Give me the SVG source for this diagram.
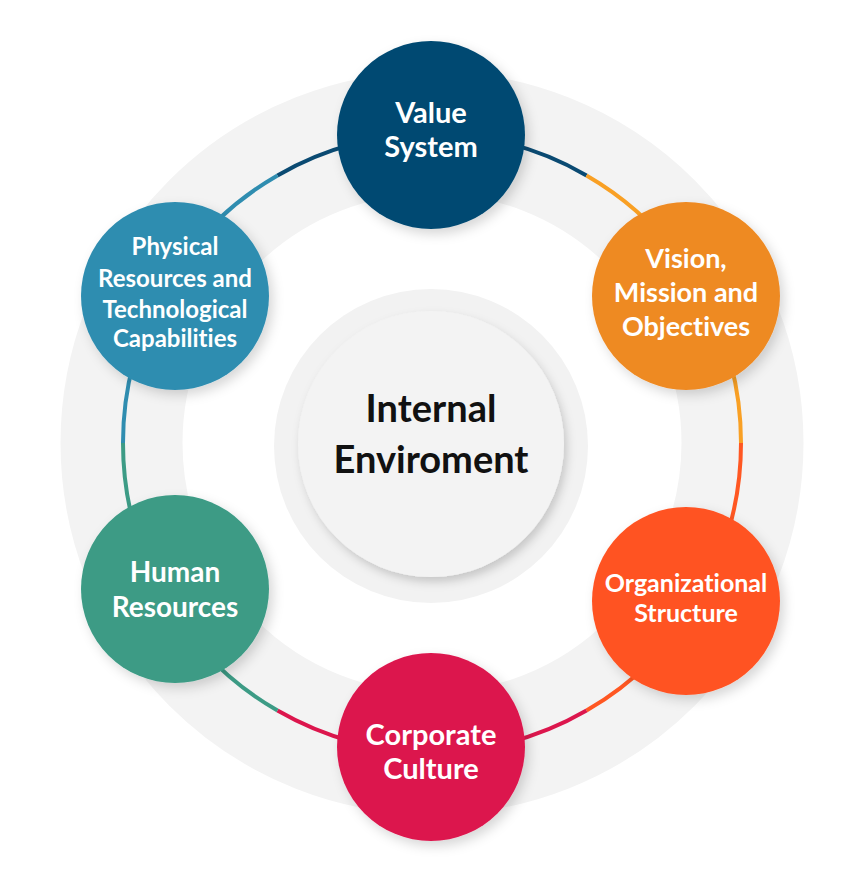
<svg xmlns="http://www.w3.org/2000/svg" width="843" height="881" viewBox="0 0 843 881">
  <style>
    text { font-variant-ligatures: none; font-feature-settings: "liga" 0, "clig" 0; }
    .lbl { font-family: Lato, "Open Sans", "Liberation Sans", sans-serif; font-weight: 700; fill: #ffffff; text-anchor: middle; }
    .center { font-family: Lato, "Open Sans", "Liberation Sans", sans-serif; font-weight: 700; fill: #111111; text-anchor: middle; font-size: 38px; }
    .conn { fill: none; stroke-width: 4; }
  </style>
  <defs>
    <filter id="shadow" x="-30%" y="-30%" width="160%" height="160%">
      <feDropShadow dx="4" dy="5" stdDeviation="6" flood-color="#000000" flood-opacity="0.16"/>
    </filter>
    <filter id="cshadow" x="-30%" y="-30%" width="160%" height="160%">
      <feDropShadow dx="3" dy="5" stdDeviation="5" flood-color="#000000" flood-opacity="0.18"/>
    </filter>
  </defs>
  <rect width="843" height="881" fill="#ffffff"/>

  <g id="background-ring">
    <circle cx="432" cy="443" r="310.5" fill="none" stroke="#F3F3F3" stroke-width="122"/>
  </g>

  <g id="connectors">
    <path class="conn" stroke="#0A4A72" d="M277.5,175.4 A309,309 0 0 1 586.5,175.4"/>
    <path class="conn" stroke="#F9A024" d="M586.5,175.4 A309,309 0 0 1 741,443"/>
    <path class="conn" stroke="#FF5722" d="M741,443 A309,309 0 0 1 586.5,710.6"/>
    <path class="conn" stroke="#DC164D" d="M586.5,710.6 A309,309 0 0 1 277.5,710.6"/>
    <path class="conn" stroke="#3C9B85" d="M277.5,710.6 A309,309 0 0 1 123,443"/>
    <path class="conn" stroke="#2F8DB0" d="M123,443 A309,309 0 0 1 277.5,175.4"/>
  </g>

  <g id="internal-environment">
    <circle cx="431" cy="446" r="157" fill="#F2F2F2"/>
    <circle cx="431" cy="444" r="133" fill="#F3F3F3" filter="url(#cshadow)"/>
    <text class="center" x="431" y="422">Internal</text>
    <text class="center" x="431" y="473">Enviroment</text>
  </g>

  <g id="value-system">
    <circle cx="431" cy="135" r="94" fill="#044A72" filter="url(#shadow)"/>
    <text class="lbl" font-size="29" x="431" y="123">Value</text>
    <text class="lbl" font-size="29" x="431" y="157">System</text>
  </g>

  <g id="vision-mission-objectives">
    <circle cx="686" cy="296" r="94" fill="#EE8A24" filter="url(#shadow)"/>
    <text class="lbl" font-size="27" x="686" y="268">Vision,</text>
    <text class="lbl" font-size="27" x="686" y="302">Mission and</text>
    <text class="lbl" font-size="27" x="686" y="336">Objectives</text>
  </g>

  <g id="organizational-structure">
    <circle cx="686" cy="601" r="94" fill="#FF5323" filter="url(#shadow)"/>
    <text class="lbl" font-size="25" x="686" y="592">Organizational</text>
    <text class="lbl" font-size="25" x="686" y="622">Structure</text>
  </g>

  <g id="corporate-culture">
    <circle cx="431" cy="747" r="94" fill="#DC164D" filter="url(#shadow)"/>
    <text class="lbl" font-size="29" x="431" y="745">Corporate</text>
    <text class="lbl" font-size="29" x="431" y="779">Culture</text>
  </g>

  <g id="human-resources">
    <circle cx="175" cy="589" r="94" fill="#3C9B85" filter="url(#shadow)"/>
    <text class="lbl" font-size="28" x="175" y="582">Human</text>
    <text class="lbl" font-size="28" x="175" y="617">Resources</text>
  </g>

  <g id="physical-resources">
    <circle cx="175" cy="296" r="94" fill="#2F8DB0" filter="url(#shadow)"/>
    <text class="lbl" font-size="24" x="175" y="255">Physical</text>
    <text class="lbl" font-size="24" x="175" y="287">Resources and</text>
    <text class="lbl" font-size="24" x="175" y="318">Technological</text>
    <text class="lbl" font-size="24" x="175" y="347">Capabilities</text>
  </g>
</svg>
